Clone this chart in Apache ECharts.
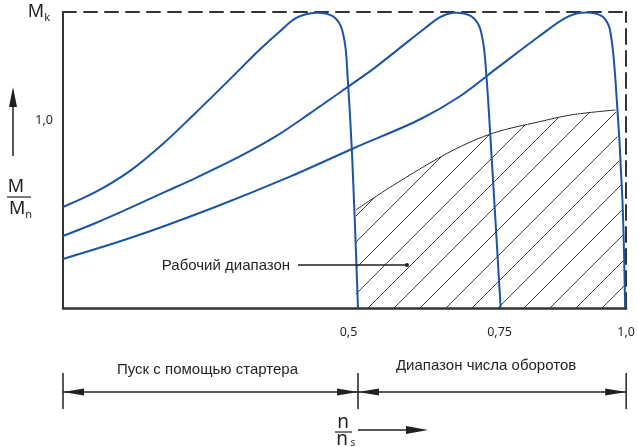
<!DOCTYPE html>
<html><head><meta charset="utf-8">
<script src="https://cdn.jsdelivr.net/npm/echarts@6/dist/echarts.min.js"></script>
<style>html,body{margin:0;padding:0;background:#fff}#c{width:638px;height:447px}</style>
</head><body><div id="c"></div>
<script>
// x = n/n_s, y = M/M_n
const curveStart1 = [[-0.05,0.537],[0.011,0.617],[0.075,0.729],[0.136,0.872],[0.197,1.037],[0.260,1.213],[0.316,1.372],[0.353,1.468],[0.385,1.543],[0.422,1.570],[0.452,1.553],[0.467,1.505],[0.476,1.399],[0.481,1.213],[0.489,0.814],[0.500,0]];
const curveStart2 = [[-0.05,0.383],[0.011,0.452],[0.075,0.532],[0.136,0.612],[0.197,0.691],[0.285,0.814],[0.348,0.915],[0.409,1.032],[0.470,1.154],[0.526,1.266],[0.576,1.378],[0.623,1.484],[0.654,1.548],[0.678,1.570],[0.710,1.553],[0.725,1.505],[0.734,1.399],[0.740,1.213],[0.747,0.904],[0.766,0]];
const curveStart3 = [[-0.05,0.261],[0.075,0.372],[0.229,0.532],[0.372,0.697],[0.493,0.851],[0.617,1.005],[0.688,1.122],[0.762,1.282],[0.836,1.441],[0.887,1.543],[0.916,1.570],[0.954,1.553],[0.967,1.505],[0.974,1.399],[0.980,1.213],[0.993,0.574],[0.998,0]];
const workingRangeTop = [[0.496,0.521],[0.561,0.644],[0.678,0.840],[0.753,0.931],[0.836,0.989],[0.898,1.027],[0.980,1.053]];
const workingRangeEdge = [[0.993,0.574],[0.998,0]];
const xTickValues = [0.5, 0.75, 1.0];
const xTickLabels = ['0,5', '0,75', '1,0'];
const yTickValues = [1.0, 1.574];
const yTickLabels = ['1,0', '{m|M}{k|k}'];
const xMin = -0.05, xMax = 1.0, yMin = 0, yMax = 1.574;
const labelLeft = 'Пуск с помощью стартера';
const labelRight = 'Диапазон числа оборотов';
const labelWork = 'Рабочий диапазон';

const BLUE = '#1b54a4', INK = '#231f20';

function hatch() {
  const s = 26, c = document.createElement('canvas');
  c.width = s; c.height = s;
  const g = c.getContext('2d');
  g.strokeStyle = '#2a2a2a'; g.lineWidth = 0.9;
  g.beginPath();
  for (const k of [0, s, 2 * s]) { g.moveTo(k - s - 1, s + 1); g.lineTo(s + 1, k - s - 1); }
  g.stroke();
  return c;
}
const HATCH = hatch();

// centripetal Catmull-Rom through pixel points -> SVG path
function splinePath(pts) {
  let d = 'M' + pts[0][0] + ' ' + pts[0][1];
  const dist = (a, b) => Math.pow(Math.hypot(b[0] - a[0], b[1] - a[1]), 0.5);
  for (let i = 0; i < pts.length - 1; i++) {
    const p0 = pts[i - 1] || pts[i], p1 = pts[i], p2 = pts[i + 1], p3 = pts[i + 2] || pts[i + 1];
    const d1 = dist(p0, p1), d2 = dist(p1, p2), d3 = dist(p2, p3);
    let c1 = p1, c2 = p2;
    if (d1 > 1e-6) c1 = [0, 1].map(k => (d1 * d1 * p2[k] - d2 * d2 * p0[k] + (2 * d1 * d1 + 3 * d1 * d2 + d2 * d2) * p1[k]) / (3 * d1 * (d1 + d2)));
    if (d3 > 1e-6) c2 = [0, 1].map(k => (d3 * d3 * p1[k] - d2 * d2 * p3[k] + (2 * d3 * d3 + 3 * d3 * d2 + d2 * d2) * p2[k]) / (3 * d3 * (d3 + d2)));
    d += ' C' + c1[0] + ' ' + c1[1] + ' ' + c2[0] + ' ' + c2[1] + ' ' + p2[0] + ' ' + p2[1];
  }
  return d;
}

const chart = echarts.init(document.getElementById('c'), null, {renderer: 'canvas'});
const xPad = {'0,5': [0, 19, 0, 0], '0,75': [0, 0, 0, 15], '1,0': [0, 0, 0, 0]};
const curveSeries = (d, z) => ({type: 'custom', data: [[xMin, yMin]], z: z || 5, silent: true,
  renderItem: (params, api) => ({type: 'path', shape: {pathData: splinePath(d.map(p => api.coord(p)))},
    style: {stroke: BLUE, lineWidth: 2, fill: null}})});

chart.setOption({
  animation: false,
  grid: {left: 63, right: 10, top: 12, bottom: 139},
  xAxis: [{type: 'value', min: xMin, max: xMax, position: 'bottom',
    axisLine: {show: true, onZero: false, lineStyle: {color: '#333', width: 2.5}},
    axisTick: {show: false}, splitLine: {show: false},
    axisLabel: {customValues: xTickValues, margin: 18, fontFamily: 'Noto Sans', fontSize: 12, color: INK,
      formatter: v => { const i = xTickValues.findIndex(t => Math.abs(t - v) < 1e-6); const t = xTickLabels[i]; return '{' + ['a','b','c'][i] + '|' + t + '}'; },
      rich: {a: {padding: xPad['0,5'], fontFamily: 'Noto Sans', fontSize: 12.5, color: INK},
             b: {padding: xPad['0,75'], fontFamily: 'Noto Sans', fontSize: 12.5, color: INK},
             c: {padding: xPad['1,0'], fontFamily: 'Noto Sans', fontSize: 12.5, color: INK}}}},
    {type: 'value', min: xMin, max: xMax, position: 'top',
    axisLine: {show: true, onZero: false, lineStyle: {color: '#333', width: 2, type: [13, 8]}},
    axisTick: {show: false}, axisLabel: {show: false}, splitLine: {show: false}}],
  yAxis: [{type: 'value', min: yMin, max: yMax, position: 'left',
    axisLine: {show: true, onZero: false, lineStyle: {color: '#333', width: 2}},
    axisTick: {show: false}, splitLine: {show: false},
    axisLabel: {customValues: yTickValues, margin: 10, fontFamily: 'Noto Sans', fontSize: 12.5, color: INK,
      formatter: v => yTickLabels[yTickValues.findIndex(t => Math.abs(t - v) < 1e-6)],
      rich: {m: {fontSize: 18, fontFamily: 'Noto Sans', color: INK, verticalAlign: 'bottom'},
             k: {fontSize: 11, fontFamily: 'Noto Sans', color: INK, verticalAlign: 'bottom', padding: [0, 3, -2, 0]}}}},
    {type: 'value', min: yMin, max: yMax, position: 'right',
    axisLine: {show: true, onZero: false, lineStyle: {color: '#333', width: 2, type: [15, 7]}},
    axisTick: {show: false}, axisLabel: {show: false}, splitLine: {show: false}}],
  series: [
    {type: 'custom', data: [[xMin, yMin]], z: 3, silent: true,
      renderItem: (params, api) => {
        const top = splinePath(workingRangeTop.map(p => api.coord(p)));
        const edge = workingRangeEdge.map(p => api.coord(p)).map(q => ' L' + q[0] + ' ' + q[1]).join('');
        const base = api.coord([workingRangeTop[0][0], yMin]);
        return {type: 'group', children: [
          {type: 'path', shape: {pathData: top + edge + ' L' + base[0] + ' ' + base[1] + ' Z'}, style: {fill: {image: HATCH, repeat: 'repeat'}, stroke: null}},
          {type: 'path', shape: {pathData: top}, style: {stroke: '#2a2a2a', lineWidth: 1, fill: null}}
        ]};
      }},
    curveSeries(curveStart1), curveSeries(curveStart2), curveSeries(curveStart3)
  ]
});

const px = v => chart.convertToPixel({xAxisIndex: 0}, v);
const xL = px(xMin), xM = px(0.5), xR = px(1.0);
const yDim = 392;
function arrow(tipX, tipY, dir, len, hw) {
  return {type: 'polygon', z: 10, shape: {points: [[tipX, tipY], [tipX - dir * len, tipY - hw], [tipX - dir * len, tipY + hw]]}, style: {fill: INK}};
}
function seg(x1, y1, x2, y2, w) {
  return {type: 'line', z: 10, shape: {x1, y1, x2, y2}, style: {stroke: INK, lineWidth: w || 1.5}};
}
function txt(x, y, t, size, align, family) {
  return {type: 'text', z: 10, x, y, style: {text: t, fill: INK, font: (size) + 'px ' + (family || '"Liberation Sans", Arial, sans-serif'), align: align || 'center', verticalAlign: 'middle'}};
}
const g = [
  seg(xL, yDim, xR, yDim),
  seg(xL, 373, xL, 409), seg(xM, 373, xM, 409), seg(xR, 373, xR, 409),
  arrow(xL, yDim, -1, 21, 3.5), arrow(xM, yDim, 1, 21, 3.5),
  arrow(xM, yDim, -1, 21, 3.5), arrow(xR, yDim, 1, 21, 3.5),
  txt((xL + xM) / 2 - 3, 370, labelLeft, 15),
  txt((xM + xR) / 2 - 6, 366, labelRight, 15),
  txt(226, 266, labelWork, 15),
  seg(298, 265, 406, 265, 1.5),
  {type: 'circle', z: 10, shape: {cx: 407, cy: 265, r: 2}, style: {fill: INK}},
  // vertical arrow and M/Mn
  seg(13, 156, 13, 104, 1.5),
  {type: 'polygon', z: 10, shape: {points: [[13, 87], [9, 107], [17, 107]]}, style: {fill: INK}},
  txt(16, 187, 'M', 18, 'center', '"Noto Sans", sans-serif'),
  seg(7, 197, 31, 197, 1.2),
  {type: 'text', z: 10, x: 9, y: 209, style: {text: '{a|M}{b|n}', fill: INK, verticalAlign: 'middle', align: 'left',
    rich: {a: {fontSize: 18, fontFamily: 'Noto Sans', fill: INK, verticalAlign: 'bottom'}, b: {fontSize: 11, fontFamily: 'Noto Sans', fill: INK, verticalAlign: 'bottom', padding: [0, 0, -2, 0]}}}},
  // n/ns
  txt(343, 423, 'n', 19, 'center', '"Noto Sans", sans-serif'),
  seg(335, 432, 352, 432, 1.2),
  txt(342, 440, 'n', 19, 'center', '"Noto Sans", sans-serif'),
  txt(353, 443, 's', 10, 'center', '"Noto Sans", sans-serif'),
  seg(358, 430, 410, 430, 1.5),
  arrow(428, 430, 1, 22, 4)
];
chart.setOption({graphic: g});
</script></body></html>
